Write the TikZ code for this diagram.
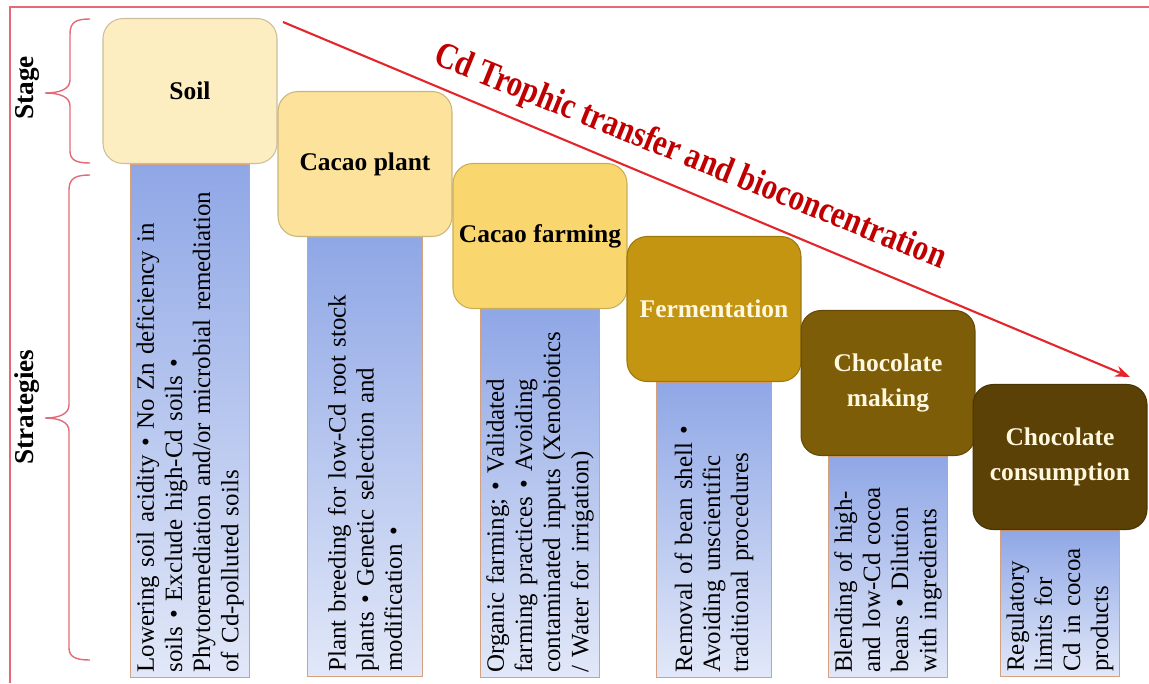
\documentclass[tikz,border=0pt]{standalone}
\usepackage{fontspec}
\setmainfont{Liberation Serif}
\usetikzlibrary{arrows.meta,backgrounds}

\definecolor{soilfill}{HTML}{FDEEC2}
\definecolor{plantfill}{HTML}{FCE29A}
\definecolor{farmfill}{HTML}{FAD76E}
\definecolor{fermfill}{HTML}{C49510}
\definecolor{makefill}{HTML}{7D5D08}
\definecolor{eatfill}{HTML}{5B4105}
\definecolor{cream}{HTML}{FFF7DE}
\definecolor{stratblue}{HTML}{8FA7E6}
\definecolor{stratpale}{HTML}{E2E8F8}
\definecolor{stratline}{HTML}{D6A07E}
\definecolor{flowred}{HTML}{E3262B}
\definecolor{titlered}{HTML}{C00000}
\definecolor{framered}{HTML}{E46A78}

\tikzset{
  stage/.style={rectangle, rounded corners=0.4cm, fill=#1, draw=#1!80!black, line width=0.6pt,
    minimum width=3.48cm, minimum height=2.9cm, align=center,
    font=\bfseries\fontsize{14.5}{20}\selectfont},
  strategy/.style={rectangle, rotate=90, anchor=east, draw=stratline, line width=0.8pt,
    top color=stratblue, bottom color=stratpale, minimum height=2.3cm, inner xsep=0pt,
    align=left, font=\fontsize{14.2}{16}\selectfont},
  side label/.style={rotate=90, font=\bfseries\fontsize{15.5}{18}\selectfont},
  brace line/.style={draw=framered, line width=0.8pt}
}

\begin{document}
\begin{tikzpicture}[x=0.02cm, y=-0.02cm, >=Stealth]
  \useasboundingbox (0,0) rectangle (1149,683);
  % frame
  \draw[framered, line width=1.2pt] (10,683) -- (10,7) -- (1149,7);

  % stages of the chain
  \node[stage=soilfill] (soil) at (190,91) {Soil};
  \node[stage=plantfill] (plant) at (365,164) {Cacao plant};
  \node[stage=farmfill] (farm) at (540,236) {Cacao farming};
  \node[stage=fermfill, text=cream] (ferm) at (714,309) {Fermentation};
  \node[stage=makefill, text=cream] (make) at (888,383) {Chocolate\\making};
  \node[stage=eatfill, text=cream] (eat) at (1060,457) {Chocolate\\consumption};

  % strategies hang below each stage
  \begin{scope}[on background layer]
    \node[strategy, minimum width=10.26cm, text width=10.06cm] (soilstr) at (soil.south)
      {Lowering soil acidity • No Zn deficiency in\\ soils • Exclude high-Cd soils •\\
       Phytoremediation and/or microbial remediation\\ of Cd-polluted soils};
    \node[strategy, minimum width=8.78cm, text width=8.58cm] (plantstr) at (plant.south)
      {Plant breeding for low-Cd root stock\\ plants • Genetic selection and\\ modification •};
    \node[strategy, minimum width=7.36cm, text width=7.16cm] (farmstr) at (farm.south)
      {Organic farming; • Validated\\ farming practices • Avoiding\\
       contaminated inputs (Xenobiotics\\ / Water for irrigation)};
    \node[strategy, minimum width=5.9cm, text width=5.7cm] (fermstr) at (ferm.south)
      {Removal of bean shell •\\ Avoiding unscientific\\ traditional procedures};
    \node[strategy, minimum width=4.42cm, text width=4.22cm] (makestr) at (make.south)
      {Blending of high-\\ and low-Cd cocoa\\ beans • Dilution\\ with ingredients};
    \node[strategy, minimum width=2.92cm, text width=2.72cm] (eatstr) at (eat.south)
      {Regulatory\\ limits for\\ Cd in cocoa\\ products};
  \end{scope}

  % trophic transfer arrow
  \coordinate (flowstart) at (283,22);
  \coordinate (flowend) at (1130,377);
  \draw[->, flowred, line width=1.2pt] (flowstart) -- (flowend);
  \node[rotate=-22, text=titlered, font=\bfseries\fontsize{21}{24}\selectfont] (title) at (690,158)
    {\scalebox{0.83}[1]{Cd Trophic transfer and bioconcentration}};

  % braces and side labels
  \draw[brace line] (90,19) .. controls (76,19) and (70,22) .. (70,34) -- (70,80)
    .. controls (70,89) and (60,93) .. (45,93) .. controls (60,93) and (70,97) .. (70,106)
    -- (70,151) .. controls (70,160) and (76,163) .. (90,163);
  \draw[brace line] (90,175) .. controls (76,175) and (69,178) .. (69,190) -- (69,405)
    .. controls (69,414) and (59,418) .. (45,418) .. controls (59,418) and (69,422) .. (69,431)
    -- (69,648) .. controls (69,657) and (76,660) .. (90,660);
  \node[side label] (stagelbl) at (27,88) {Stage};
  \node[side label] (stratlbl) at (27,407) {Strategies};
\end{tikzpicture}
\end{document}
